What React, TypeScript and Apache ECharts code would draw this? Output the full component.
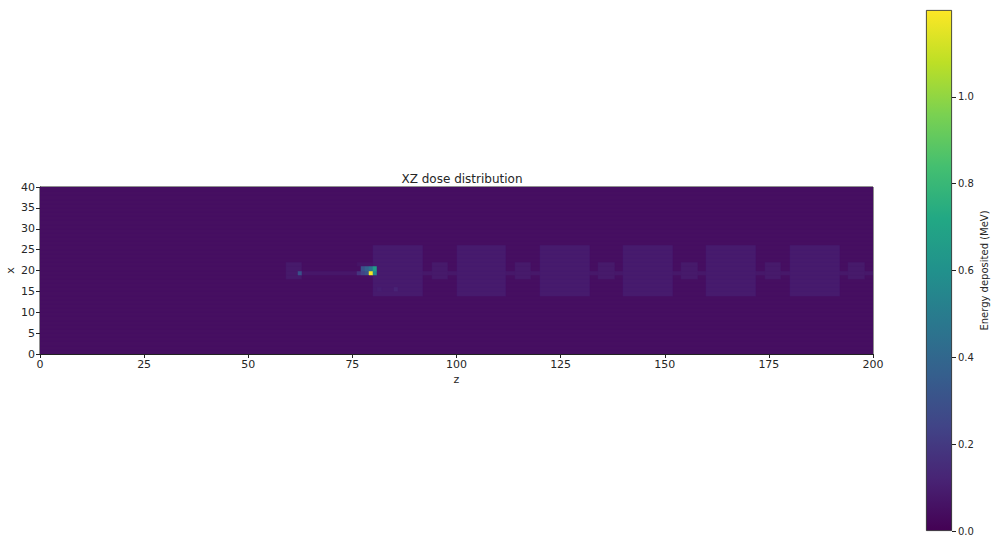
import React, { useEffect, useRef } from "react";
import * as echarts from "echarts";

// Grid size (z columns, x rows)
const NZ = 200;
const NX = 40;
const VMAX = 1.2;

// background deposit level
const backgroundLevel = 0.048;

// rectangular structures: [z0, z1 (exclusive), x0, x1 (exclusive), value]
const bigBlocks: number[][] = [
  [80, 92, 14, 26, 0.09],
  [100, 112, 14, 26, 0.09],
  [120, 132, 14, 26, 0.09],
  [140, 152, 14, 26, 0.09],
  [160, 172, 14, 26, 0.09],
  [180, 192, 14, 26, 0.09],
];
const smallBlocks: number[][] = [
  [59, 63, 18, 22, 0.084],
  [94, 98, 18, 22, 0.084],
  [114, 118, 18, 22, 0.084],
  [134, 138, 18, 22, 0.084],
  [154, 158, 18, 22, 0.084],
  [174, 178, 18, 22, 0.084],
  [194, 198, 18, 22, 0.084],
];
const connectors: number[][] = [
  [63, 80, 19, 20, 0.076],
  [92, 94, 19, 20, 0.08],
  [98, 100, 19, 20, 0.08],
  [112, 114, 19, 20, 0.08],
  [118, 120, 19, 20, 0.08],
  [132, 134, 19, 20, 0.08],
  [138, 140, 19, 20, 0.08],
  [152, 154, 19, 20, 0.08],
  [158, 160, 19, 20, 0.08],
  [172, 174, 19, 20, 0.08],
  [178, 180, 19, 20, 0.08],
  [192, 194, 19, 20, 0.08],
  [198, 200, 19, 20, 0.08],
  [76, 80, 21, 22, 0.07],
];
// individual hot cells: [z, x, value]
const hotCells: number[][] = [
  [62, 19, 0.3],
  [76, 19, 0.18],
  [77, 19, 0.24],
  [78, 19, 0.3],
  [79, 19, 1.19],
  [80, 19, 0.55],
  [77, 20, 0.3],
  [78, 20, 0.37],
  [79, 20, 0.45],
  [80, 20, 0.66],
  [85, 15, 0.12],
  [81, 15, 0.1],
];

const colorbarTicks = [0, 0.2, 0.4, 0.6, 0.8, 1.0];
const zTicks = 25;
const xTicks = 5;

const viridis = [
  "#440154", "#482475", "#414487", "#355f8d", "#2a788e", "#21918c",
  "#22a884", "#44bf70", "#7ad151", "#bddf26", "#fde725",
];

function buildGrid(): number[][] {
  const g: number[][] = [];
  for (let x = 0; x < NX; x++) {
    g.push(new Array(NZ).fill(backgroundLevel));
  }
  const apply = (list: number[][]) => {
    for (const [z0, z1, x0, x1, v] of list) {
      for (let x = x0; x < x1; x++) for (let z = z0; z < z1; z++) g[x][z] = v;
    }
  };
  apply(bigBlocks);
  apply(smallBlocks);
  apply(connectors);
  for (const [z, x, v] of hotCells) g[x][z] = v;
  return g;
}

// merge equal horizontal runs: [z0, z1, x, value]
function buildRuns(g: number[][]): number[][] {
  const runs: number[][] = [];
  for (let x = 0; x < NX; x++) {
    let start = 0;
    for (let z = 1; z <= NZ; z++) {
      if (z === NZ || g[x][z] !== g[x][start]) {
        runs.push([start, z, x, g[x][start]]);
        start = z;
      }
    }
  }
  return runs;
}

export default function App() {
  const ref = useRef<HTMLDivElement>(null);
  useEffect(() => {
    if (!ref.current) return;
    const chart = echarts.init(ref.current, undefined, { renderer: "svg" });
    const runs = buildRuns(buildGrid());
    const font = "DejaVu Sans";
    const txt = "#262626";
    chart.setOption({
      animation: false,
      textStyle: { fontFamily: font },
      title: {
        text: "XZ dose distribution",
        left: 457,
        top: 168,
        textAlign: "center",
        textStyle: { fontFamily: font, fontSize: 12, fontWeight: "normal", color: txt },
      },
      grid: [
        { left: 40, right: 122, top: 187, bottom: 184, show: true, borderColor: "#222", borderWidth: 1, backgroundColor: "transparent", outerBoundsMode: "none", containLabel: false },
        { left: 926, width: 26, top: 10, height: 521, outerBoundsMode: "none", containLabel: false },
      ],
      xAxis: [
        {
          gridIndex: 0,
          type: "value",
          min: 0,
          max: NZ,
          interval: zTicks,
          name: "z",
          nameLocation: "middle",
          nameGap: 20,
          nameTextStyle: { fontSize: 11, color: txt, fontFamily: font },
          axisLine: { show: true, lineStyle: { color: "#222" } },
          axisTick: { show: true, length: 4, lineStyle: { color: "#222" } },
          axisLabel: { fontSize: 11, color: txt, margin: 5, fontFamily: font },
          splitLine: { show: false },
        },
        {
          gridIndex: 1,
          type: "category",
          data: ["cb"],
          show: false,
        },
      ],
      yAxis: [
        {
          gridIndex: 0,
          type: "value",
          min: 0,
          max: NX,
          interval: xTicks,
          name: "x",
          nameLocation: "middle",
          nameGap: 24,
          nameRotate: 90,
          nameMoveOverlap: false,
          nameTextStyle: { fontSize: 11, color: txt, fontFamily: font },
          axisLine: { show: true, lineStyle: { color: "#222" } },
          axisTick: { show: true, length: 4, lineStyle: { color: "#222" } },
          axisLabel: { fontSize: 11, color: txt, margin: 5, fontFamily: font },
          splitLine: { show: false },
        },
        {
          gridIndex: 1,
          type: "value",
          min: 0,
          max: VMAX,
          position: "right",
          name: "Energy deposited (MeV)",
          nameLocation: "middle",
          nameGap: 27,
          nameRotate: 90,
          nameMoveOverlap: false,
          nameTextStyle: { fontSize: 10, color: txt, fontFamily: font },
          axisLine: { show: false },
          axisTick: { show: true, length: 4, lineStyle: { color: "#222" }, customValues: colorbarTicks },
          axisLabel: {
            fontSize: 10,
            color: txt,
            margin: 6,
            fontFamily: font,
            customValues: colorbarTicks,
            formatter: (v: number) => v.toFixed(1),
          },
          splitLine: { show: false },
        },
      ],
      visualMap: {
        type: "continuous",
        show: false,
        min: 0,
        max: VMAX,
        dimension: 3,
        seriesIndex: 0,
        inRange: { color: viridis },
      },
      series: [
        {
          type: "custom",
          xAxisIndex: 0,
          yAxisIndex: 0,
          clip: true,
          encode: { x: [0, 1], y: 2 },
          data: runs,
          renderItem: (params: any, api: any) => {
            const z0 = api.value(0);
            const z1 = api.value(1);
            const x = api.value(2);
            const p0 = api.coord([z0, x + 1]);
            const p1 = api.coord([z1, x]);
            const left = Math.round(p0[0]);
            const top = Math.round(p0[1]);
            const right = Math.round(p1[0]);
            const bottom = Math.round(p1[1]);
            return {
              type: "rect",
              shape: { x: left, y: top, width: right - left, height: bottom - top },
              style: { fill: api.visual("color"), stroke: api.visual("color"), lineWidth: 0.5 },
            };
          },
        },
        {
          type: "bar",
          xAxisIndex: 1,
          yAxisIndex: 1,
          barWidth: "100%",
          data: [VMAX],
          itemStyle: {
            borderColor: "#222",
            borderWidth: 0.8,
            color: new echarts.graphic.LinearGradient(
              0, 1, 0, 0,
              viridis.map((c, i) => ({ offset: i / (viridis.length - 1), color: c }))
            ),
          },
        },
      ],
    });
    return () => chart.dispose();
  }, []);
  return (
    <div
      ref={ref}
      style={{ position: "absolute", left: 0, top: 0, width: 995, height: 538, background: "#fff" }}
    />
  );
}
